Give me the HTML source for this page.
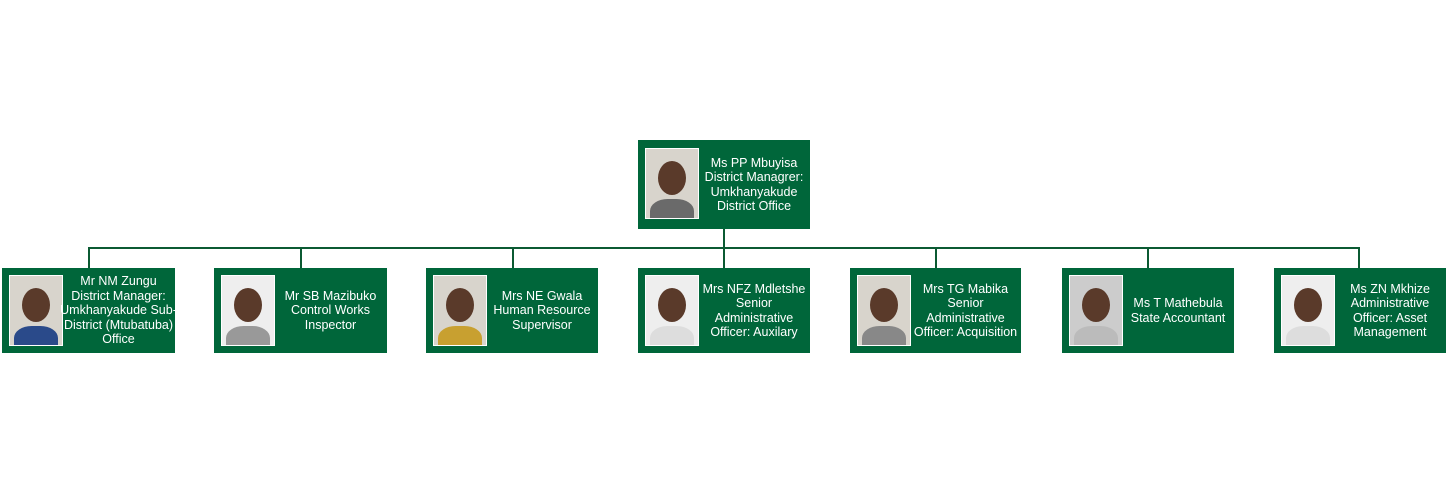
<!DOCTYPE html>
<html><head><meta charset="utf-8"><style>
body{margin:0;width:1448px;height:494px;background:#fff;position:relative;overflow:hidden;font-family:"Liberation Sans Narrow","Liberation Sans",sans-serif;}
.b{position:absolute;background:#00663a;height:85px;width:173px;}
.b .p{position:absolute;left:7px;top:7px;width:52px;height:69px;background:#d8d4cc;border:1px solid #fff;overflow:hidden;}
.p .h{position:absolute;left:12px;top:12px;width:28px;height:34px;border-radius:50%;background:#5a3a2a;}
.p .s{position:absolute;left:4px;top:50px;width:44px;height:30px;border-radius:40% 40% 0 0;background:#6a6a6a;}
.b .t{position:absolute;left:60px;right:0;top:0;bottom:0;display:flex;align-items:center;justify-content:center;text-align:center;color:#fff;font-size:12.5px;line-height:14.5px;white-space:nowrap;}
.l{position:absolute;background:#0b5a33;}
</style></head><body>
<div class="l" style="left:723px;top:229px;width:2px;height:39px"></div>
<div class="l" style="left:88px;top:247px;width:1272px;height:2px"></div>
<div class="l" style="left:88px;top:247px;width:2px;height:21px"></div>
<div class="l" style="left:300px;top:247px;width:2px;height:21px"></div>
<div class="l" style="left:512px;top:247px;width:2px;height:21px"></div>
<div class="l" style="left:935px;top:247px;width:2px;height:21px"></div>
<div class="l" style="left:1147px;top:247px;width:2px;height:21px"></div>
<div class="l" style="left:1358px;top:247px;width:2px;height:21px"></div>

<div class="b" style="left:638px;top:140px;height:89px;width:172px"><div class="p" style="top:8px;height:69px"><div class="h"></div><div class="s"></div></div><div class="t">Ms PP Mbuyisa<br>District Managrer:<br>Umkhanyakude<br>District Office</div></div>

<div class="b" style="left:2px;top:268px"><div class="p"><div class="h"></div><div class="s" style="background:#2a4a8a"></div></div><div class="t">Mr NM Zungu<br>District Manager:<br>Umkhanyakude Sub-<br>District (Mtubatuba)<br>Office</div></div>
<div class="b" style="left:214px;top:268px"><div class="p" style="background:#eee"><div class="h"></div><div class="s" style="background:#999"></div></div><div class="t">Mr SB Mazibuko<br>Control Works<br>Inspector</div></div>
<div class="b" style="left:426px;top:268px;width:172px"><div class="p"><div class="h"></div><div class="s" style="background:#c8a030"></div></div><div class="t">Mrs NE Gwala<br>Human Resource<br>Supervisor</div></div>
<div class="b" style="left:638px;top:268px;width:172px"><div class="p" style="background:#eee"><div class="h"></div><div class="s" style="background:#ddd"></div></div><div class="t">Mrs NFZ Mdletshe<br>Senior<br>Administrative<br>Officer: Auxilary</div></div>
<div class="b" style="left:850px;top:268px;width:171px"><div class="p"><div class="h"></div><div class="s" style="background:#888"></div></div><div class="t">Mrs TG Mabika<br>Senior<br>Administrative<br>Officer: Acquisition</div></div>
<div class="b" style="left:1062px;top:268px;width:172px"><div class="p" style="background:#ccc"><div class="h"></div><div class="s" style="background:#bbb"></div></div><div class="t">Ms T Mathebula<br>State Accountant</div></div>
<div class="b" style="left:1274px;top:268px;width:172px"><div class="p" style="background:#eee"><div class="h"></div><div class="s" style="background:#ddd"></div></div><div class="t">Ms ZN Mkhize<br>Administrative<br>Officer: Asset<br>Management</div></div>
</body></html>
